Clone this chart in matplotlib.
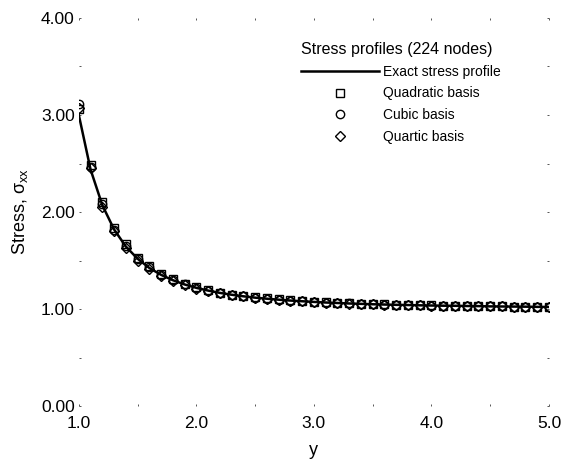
import matplotlib.pyplot as plt
from matplotlib.ticker import MultipleLocator

plt.rcParams['font.family'] = ['Liberation Sans', 'DejaVu Sans']
plt.rcParams['mathtext.fontset'] = 'custom'
plt.rcParams['mathtext.rm'] = 'Liberation Sans'

# y coordinate along the section (0.1 steps from 1.0 to 5.0)
y_pts = [1.0 + 0.1 * i for i in range(41)]

exact = [3.000, 2.438, 2.071, 1.821, 1.645, 1.519, 1.424, 1.353, 1.298, 1.254,
         1.219, 1.191, 1.167, 1.148, 1.132, 1.118, 1.107, 1.097, 1.088, 1.081,
         1.074, 1.068, 1.063, 1.058, 1.054, 1.050, 1.047, 1.044, 1.042, 1.039,
         1.037, 1.035, 1.034, 1.032, 1.031, 1.028, 1.027, 1.026, 1.025, 1.023,
         1.022]

quadratic = [3.06, 2.48, 2.10, 1.84, 1.67, 1.53, 1.44, 1.36, 1.31, 1.26,
             1.23, 1.20, 1.17, 1.15, 1.135, 1.12, 1.11, 1.10, 1.09, 1.083,
             1.076, 1.069, 1.064, 1.059, 1.055, 1.051, 1.048, 1.045, 1.042, 1.040,
             1.038, 1.036, 1.034, 1.033, 1.031, 1.029, 1.028, 1.026, 1.025, 1.024,
             1.022]
cubic = [3.11, 2.46, 2.08, 1.82, 1.65, 1.52, 1.43, 1.355, 1.30, 1.255,
         1.22, 1.19, 1.167, 1.148, 1.132, 1.118, 1.107, 1.097, 1.088, 1.081,
         1.074, 1.068, 1.063, 1.058, 1.054, 1.050, 1.047, 1.044, 1.042, 1.039,
         1.037, 1.035, 1.034, 1.032, 1.031, 1.028, 1.027, 1.026, 1.025, 1.023,
         1.022]
quartic = [3.07, 2.45, 2.05, 1.80, 1.63, 1.50, 1.41, 1.34, 1.285, 1.245,
           1.21, 1.185, 1.163, 1.145, 1.13, 1.116, 1.105, 1.096, 1.087, 1.080,
           1.073, 1.067, 1.062, 1.057, 1.053, 1.050, 1.046, 1.044, 1.041, 1.039,
           1.037, 1.035, 1.033, 1.032, 1.030, 1.028, 1.027, 1.026, 1.024, 1.023,
           1.022]

fig = plt.figure(figsize=(5.63, 4.61), dpi=100)
ax = fig.add_axes([0.140, 0.119, 0.835, 0.842])

ax.plot(y_pts, exact, color='black', lw=1.8, label='Exact stress profile')
ax.plot(y_pts, quadratic, ls='none', marker='s', ms=6, mfc='none', mec='black',
        mew=1.0, label='Quadratic basis')
ax.plot(y_pts, cubic, ls='none', marker='o', ms=6, mfc='none', mec='black',
        mew=1.0, label='Cubic basis')
ax.plot(y_pts, quartic, ls='none', marker='D', ms=5.5, mfc='none', mec='black',
        mew=1.0, label='Quartic basis')

ax.set_xlim(1.0, 5.0)
ax.set_ylim(0.0, 4.0)
ax.xaxis.set_major_locator(MultipleLocator(1.0))
ax.xaxis.set_minor_locator(MultipleLocator(0.5))
ax.yaxis.set_major_locator(MultipleLocator(1.0))
ax.yaxis.set_minor_locator(MultipleLocator(0.5))
ax.set_xticklabels([f'{v:.1f}' for v in ax.get_xticks()])
ax.set_yticklabels([f'{v:.2f}' for v in ax.get_yticks()])

for s in ax.spines.values():
    s.set_visible(False)
ax.tick_params(which='both', direction='in', length=1.5, width=0.7,
               color='#555555', top=True, right=True)
ax.tick_params(axis='x', labelsize=12.5, pad=7)
ax.tick_params(axis='y', labelsize=12.5, pad=3)

ax.set_xlabel('y', fontsize=13, labelpad=8)
ax.set_ylabel('Stress, σ$_\\mathregular{xx}$', fontsize=13, labelpad=8)

leg = ax.legend(title='Stress profiles (224 nodes)', loc='upper right',
                bbox_to_anchor=(0.925, 0.97), frameon=False, fontsize=10,
                title_fontsize=11.5, handlelength=5.6, handletextpad=0.3,
                labelspacing=0.55)
leg._legend_box.align = 'left'

fig.savefig('out.png', dpi=100)
